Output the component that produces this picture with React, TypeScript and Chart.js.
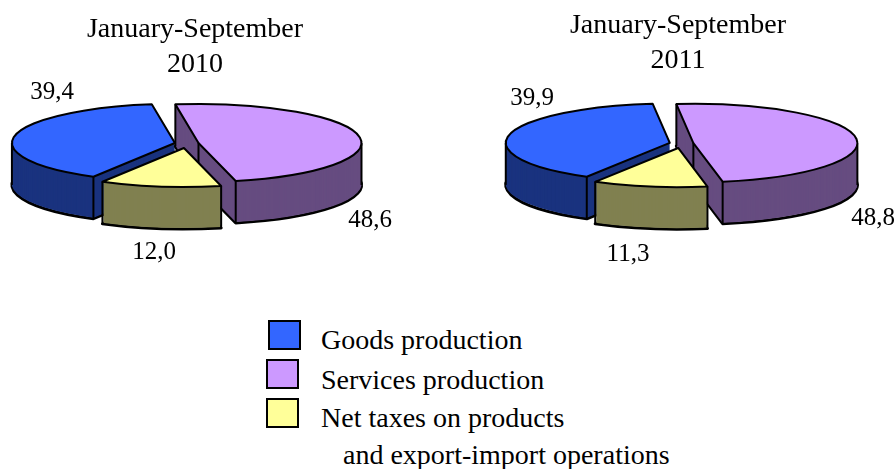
import React, { useEffect, useRef } from "react";
import { Chart, registerables } from "chart.js";

Chart.register(...registerables);

const categories = ["Goods production", "Services production", "Net taxes on products"];
const legendExtraLine = "and export-import operations";
const values2010 = [39.4, 48.6, 12.0];
const values2011 = [39.9, 48.8, 11.3];
const title2010 = ["January-September", "2010"];
const title2011 = ["January-September", "2011"];
const topColors = ["#3366FF", "#CC99FF", "#FFFF99"];
const sideColors = ["#1A337F", "#664C80", "#808050"];

const FONT = '"Liberation Serif"';
const TAU = Math.PI * 2;
const SQUASH = 39 / 163;
const DEPTH = 42;

type PieConfig = {
  left: number;
  width: number;
  cx: number;
  cy: number;
  radius: number;
  rotation: number;
  offsets: number[];
  titleTop: number;
  labelAt: [number, number][];
};

const pie2010: PieConfig = {
  left: -5,
  width: 400,
  cx: 186.7,
  cy: 143.5,
  radius: 163,
  rotation: 210,
  offsets: [12, 12, 19],
  titleTop: 13,
  labelAt: [[52, 92], [370, 220], [154, 252]],
};
const pie2011: PieConfig = {
  left: 460,
  width: 436,
  cx: 681.5,
  cy: 143.5,
  radius: 164,
  rotation: 210.4,
  offsets: [12, 12, 19],
  titleTop: 9,
  labelAt: [[532, 98], [873, 218], [628, 254]],
};

function pieLayers(cfg: PieConfig) {
  return {
    id: "pie3d",
    beforeDatasetDraw(chart: any, args: any) {
      const ctx: CanvasRenderingContext2D = chart.ctx;
      const sx = cfg.cx - cfg.left;
      const arcs = args.meta.data;
      const slice = (arc: any, i: number, z: number) => {
        const mid = (arc.startAngle + arc.endAngle) / 2;
        const ox = Math.cos(mid) * cfg.offsets[i];
        const oy = Math.sin(mid) * cfg.offsets[i];
        ctx.save();
        ctx.translate(sx, cfg.cy + z);
        ctx.scale(1, SQUASH);
        ctx.beginPath();
        ctx.moveTo(ox, oy);
        ctx.arc(ox, oy, arc.outerRadius, arc.startAngle, arc.endAngle);
        ctx.closePath();
        ctx.restore();
      };
      const pointAt = (arc: any, i: number, angle: number, r: number) => {
        const mid = (arc.startAngle + arc.endAngle) / 2;
        const ox = Math.cos(mid) * cfg.offsets[i];
        const oy = Math.sin(mid) * cfg.offsets[i];
        return [sx + ox + Math.cos(angle) * r, cfg.cy + (oy + Math.sin(angle) * r) * SQUASH];
      };
      const drop = (p: number[]) => {
        ctx.beginPath();
        ctx.moveTo(p[0], p[1]);
        ctx.lineTo(p[0], p[1] + DEPTH);
        ctx.stroke();
      };
      ctx.save();
      ctx.lineJoin = "round";
      ctx.strokeStyle = "#000";
      arcs.forEach((arc: any, i: number) => {
        const a = arc.startAngle;
        const b = arc.endAngle;
        const r = arc.outerRadius;
        ctx.lineWidth = 3;
        slice(arc, i, DEPTH);
        ctx.stroke();
        ctx.fillStyle = sideColors[i];
        for (let z = DEPTH - 1; z >= 1; z--) {
          slice(arc, i, z);
          ctx.fill();
        }
        ctx.lineWidth = 2;
        const startWall = -Math.cos(a) > 0;
        const endWall = Math.cos(b) > 0;
        if (startWall || Math.sin(a) > 0) drop(pointAt(arc, i, a, r));
        if (endWall || Math.sin(b) > 0) drop(pointAt(arc, i, b, r));
        if (startWall && endWall) drop(pointAt(arc, i, a, 0));
        for (let k = -1; k <= 2; k++) {
          [0, Math.PI].forEach((e) => {
            const ang = e + k * TAU;
            if (ang > a && ang < b) drop(pointAt(arc, i, ang, r));
          });
        }
        slice(arc, i, 0);
        ctx.fillStyle = topColors[i];
        ctx.fill();
        ctx.stroke();
      });
      ctx.restore();
      return false;
    },
    afterDatasetsDraw(chart: any) {
      const ctx: CanvasRenderingContext2D = chart.ctx;
      const vals: number[] = chart.data.datasets[0].data;
      ctx.save();
      ctx.fillStyle = "#000";
      ctx.font = `25px ${FONT}`;
      ctx.textAlign = "center";
      ctx.textBaseline = "middle";
      vals.forEach((v, i) => {
        const [x, y] = cfg.labelAt[i];
        ctx.fillText(v.toFixed(1).replace(".", ","), x - cfg.left, y);
      });
      ctx.restore();
    },
  };
}

function makePie(canvas: HTMLCanvasElement, cfg: PieConfig, values: number[], title: string[]) {
  return new Chart(canvas, {
    type: "pie",
    data: {
      labels: categories,
      datasets: [{ data: values, backgroundColor: topColors, offset: cfg.offsets, radius: cfg.radius } as any],
    },
    options: {
      animation: false,
      responsive: false,
      devicePixelRatio: 1,
      rotation: cfg.rotation,
      radius: cfg.radius,
      plugins: {
        legend: { display: false },
        tooltip: { enabled: false },
        title: {
          display: true,
          text: title,
          color: "#000",
          font: { family: FONT, size: 28, weight: "normal", lineHeight: 1.22 },
          padding: { top: cfg.titleTop, bottom: 0 },
        },
      },
    } as any,
    plugins: [pieLayers(cfg)],
  });
}

const swatchBoxes = [
  { left: 268, top: 320 },
  { left: 266, top: 359 },
  { left: 266, top: 398 },
];
const legendTextBoxes = [
  { left: 321, top: 340 },
  { left: 321, top: 380 },
  { left: 321, top: 418 },
];

export default function App() {
  const a = useRef<HTMLCanvasElement>(null);
  const b = useRef<HTMLCanvasElement>(null);
  useEffect(() => {
    const c1 = makePie(a.current!, pie2010, values2010, title2010);
    const c2 = makePie(b.current!, pie2011, values2011, title2011);
    return () => {
      c1.destroy();
      c2.destroy();
    };
  }, []);
  const text: React.CSSProperties = {
    position: "absolute",
    font: `28px ${FONT}`,
    color: "#000",
    whiteSpace: "nowrap",
    lineHeight: "30px",
    transform: "translateY(-15px)",
  };
  return (
    <div style={{ position: "fixed", left: 0, top: 0, width: 896, height: 469, overflow: "hidden", background: "#fff" }}>
      <canvas ref={a} width={pie2010.width} height={300} style={{ position: "absolute", left: pie2010.left, top: 0, width: pie2010.width, height: 300 }} />
      <canvas ref={b} width={pie2011.width} height={300} style={{ position: "absolute", left: pie2011.left, top: 0, width: pie2011.width, height: 300 }} />
      {categories.map((c, i) => (
        <React.Fragment key={c}>
          <div
            style={{
              position: "absolute",
              left: swatchBoxes[i].left,
              top: swatchBoxes[i].top,
              width: 29,
              height: 26,
              background: topColors[i],
              border: "2px solid #000",
            }}
          />
          <div style={{ ...text, left: legendTextBoxes[i].left, top: legendTextBoxes[i].top }}>{c}</div>
        </React.Fragment>
      ))}
      <div style={{ ...text, left: 343, top: 455 }}>{legendExtraLine}</div>
    </div>
  );
}
